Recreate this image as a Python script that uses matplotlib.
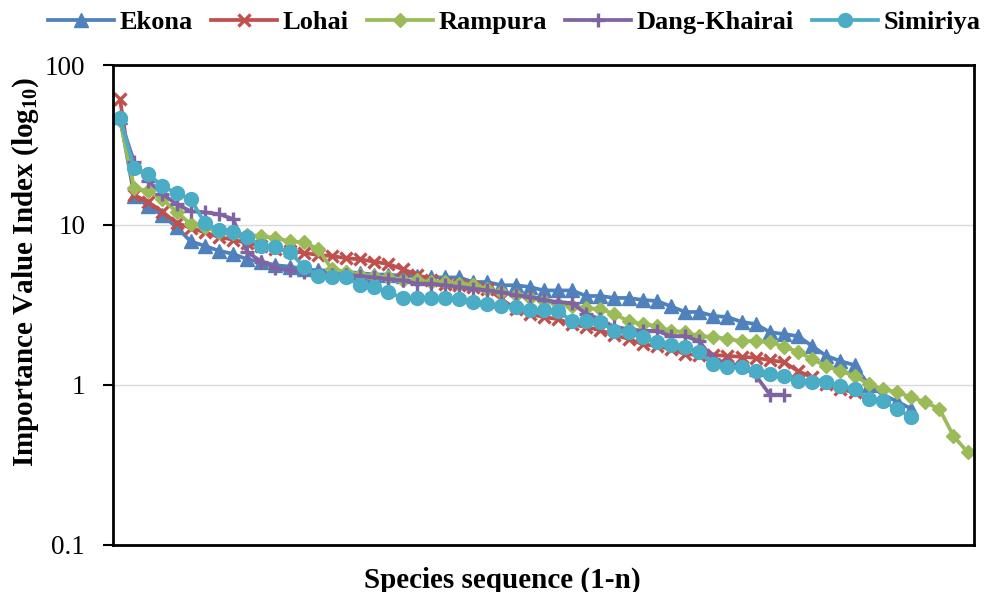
import numpy as np
import matplotlib.pyplot as plt
from matplotlib.ticker import NullLocator

plt.rcParams['font.family'] = ['Liberation Serif', 'DejaVu Serif']
plt.rcParams['mathtext.fontset'] = 'custom'
plt.rcParams['mathtext.rm'] = 'Liberation Serif:bold'
plt.rcParams['mathtext.bf'] = 'Liberation Serif:bold'

# Importance Value Index por especie (ordenado, rango 1-n)
ekona = [47.3, 15.2, 13.1, 11.5, 9.7, 7.9, 7.4, 6.9, 6.6, 6.1,
         5.9, 5.6, 5.5, 5.3, 5.2, 5.2, 5.1, 5.0, 4.9, 4.9,
         4.8, 4.8, 4.7, 4.7, 4.7, 4.4, 4.4, 4.2, 4.2, 4.1,
         3.9, 3.9, 3.9, 3.6, 3.6, 3.5, 3.5, 3.4, 3.35, 3.1,
         2.86, 2.86, 2.7, 2.66, 2.48, 2.4, 2.14, 2.08, 2.02, 1.75,
         1.52, 1.41, 1.33, 1.0, 0.87, 0.79, 0.71]
lohai = [61.3, 15.4, 13.9, 12.1, 10.3, 9.6, 9.0, 8.4, 8.1, 7.7,
         7.4, 7.1, 6.9, 6.7, 6.5, 6.4, 6.2, 6.1, 5.9, 5.7,
         5.3, 4.9, 4.5, 4.3, 4.2, 4.1, 4.0, 3.45, 2.98, 2.78,
         2.66, 2.58, 2.4, 2.3, 2.2, 2.05, 1.94, 1.8, 1.75, 1.68,
         1.56, 1.54, 1.54, 1.52, 1.5, 1.48, 1.43, 1.39, 1.22, 1.12,
         1.01, 0.94, 0.9]
rampura = [45.0, 17.0, 16.3, 14.5, 12.1, 10.1, 9.7, 9.0, 8.9, 8.7,
           8.5, 8.3, 7.9, 7.8, 7.1, 5.3, 5.1, 4.9, 4.8, 4.7,
           4.5, 4.5, 4.4, 4.4, 4.3, 4.2, 4.0, 3.8, 3.65, 3.5,
           3.35, 3.2, 3.1, 3.03, 2.98, 2.78, 2.5, 2.4, 2.34, 2.18,
           2.14, 2.02, 2.0, 1.94, 1.88, 1.88, 1.86, 1.73, 1.61, 1.45,
           1.31, 1.22, 1.14, 1.01, 0.94, 0.90, 0.84, 0.78, 0.71, 0.48,
           0.38]
dang_khairai = [45.7, 24.8, 18.8, 15.6, 13.5, 12.2, 12.0, 11.7, 10.9, 6.8,
                5.9, 5.4, 5.2, 5.1, 5.0, 4.9, 4.9, 4.8, 4.7, 4.6,
                4.5, 4.3, 4.3, 4.2, 4.1, 4.0, 3.9, 3.8, 3.65, 3.55,
                3.4, 3.3, 3.25, 2.78, 2.58, 2.3, 2.24, 2.18, 2.18, 2.02,
                2.02, 1.88, 1.45, 1.37, 1.31, 1.15, 0.87, 0.87]
simiriya = [46.6, 22.7, 20.8, 17.5, 15.8, 14.5, 10.3, 9.3, 9.0, 8.4,
            7.4, 7.3, 6.8, 5.5, 4.8, 4.7, 4.7, 4.2, 4.1, 3.8,
            3.5, 3.5, 3.5, 3.5, 3.45, 3.3, 3.2, 3.1, 3.07, 2.96,
            2.94, 2.9, 2.5, 2.5, 2.48, 2.18, 2.14, 2.0, 1.86, 1.78,
            1.73, 1.61, 1.35, 1.30, 1.30, 1.22, 1.17, 1.14, 1.06, 1.04,
            1.04, 0.99, 0.94, 0.82, 0.79, 0.71, 0.63]

sitios = ["Ekona", "Lohai", "Rampura", "Dang-Khairai", "Simiriya"]
valores = [ekona, lohai, rampura, dang_khairai, simiriya]
colores = ["#4F81BD", "#C0504D", "#9BBB59", "#8064A2", "#4BACC6"]
marcadores = ["^", "x", "D", "+", "o"]
tamanos = [10, 9, 7, 10, 10]

fig = plt.figure(figsize=(9.85, 5.92), dpi=100)
ax = fig.add_axes([0.1147, 0.0794, 0.8741, 0.8108])

for nombre, v, c, m, s in zip(sitios, valores, colores, marcadores, tamanos):
    x = np.arange(1, len(v) + 1)
    ax.plot(x, v, color=c, lw=2.7, marker=m, ms=s, mew=2.4 if m in ("x", "+") else 1,
            label=nombre)

ax.set_yscale('log')
ax.set_ylim(0.1, 100)
ax.set_xlim(0.5, 61.45)
ax.set_yticks([0.1, 1, 10, 100])
ax.set_yticklabels(["0.1", "1", "10", "100"])
ax.yaxis.set_minor_locator(NullLocator())
ax.set_xticks([])
ax.grid(axis='y', color='#D9D9D9', lw=1)
ax.set_axisbelow(True)
for sp in ax.spines.values():
    sp.set_linewidth(2)
ax.tick_params(axis='y', length=7, width=1.5, labelsize=19.5, pad=13)

ax.set_ylabel("Importance Value Index (log$_{10}$)", fontsize=21, fontweight='bold')
ax.yaxis.set_label_coords(-0.084, 0.57)
ax.set_xlabel("Species sequence (1-n)", fontsize=21, fontweight='bold')
ax.xaxis.set_label_coords(0.452, -0.045)

fig.legend(loc='upper center', bbox_to_anchor=(0.522, 1.022), ncol=5, frameon=False,
           prop={'weight': 'bold', 'size': 19}, handlelength=2.5, handletextpad=0.2,
           columnspacing=0.7)

fig.savefig("out.png", dpi=100)
